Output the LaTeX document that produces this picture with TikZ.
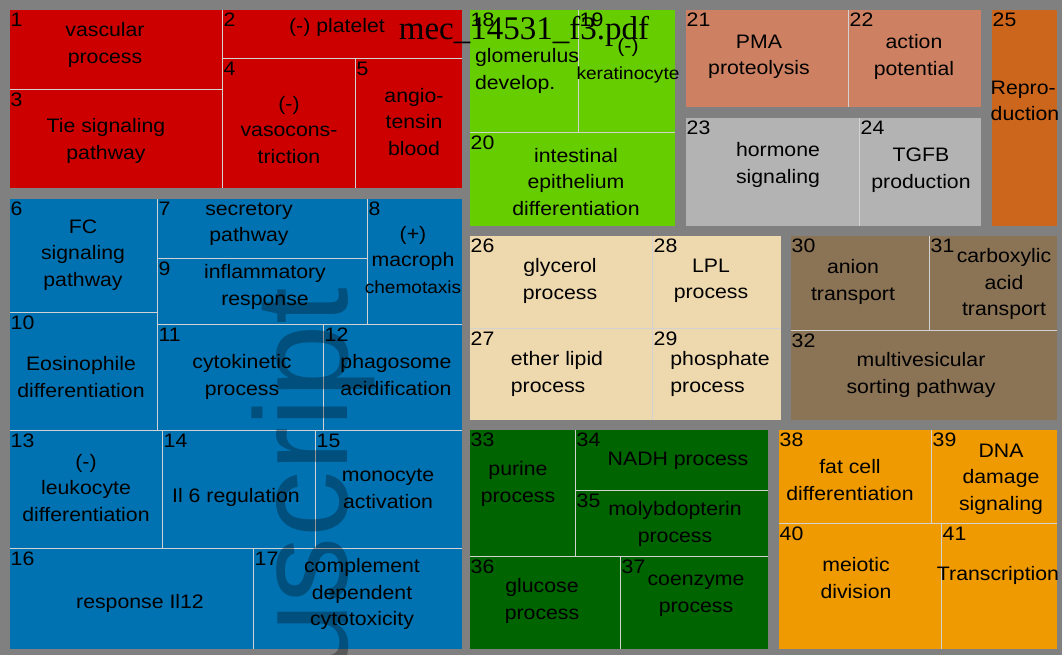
\documentclass[tikz,border=0pt]{standalone}
\usepackage{fontspec}
\setmainfont[FakeStretch=1.09]{Liberation Sans}
\newfontfamily\titlefont{Liberation Serif}
\newfontfamily\markfont{Liberation Sans}
\usepackage{tikz}
\usetikzlibrary{positioning,fit}
\definecolor{backg}{RGB}{128,128,128}
\definecolor{edge}{RGB}{210,210,210}
\definecolor{redt}{RGB}{205,0,0}
\definecolor{bluet}{RGB}{0,114,178}
\definecolor{greent}{RGB}{102,205,0}
\definecolor{salmont}{RGB}{205,129,98}
\definecolor{grayt}{RGB}{179,179,179}
\definecolor{chocot}{RGB}{205,102,29}
\definecolor{wheatt}{RGB}{238,216,174}
\definecolor{brownt}{RGB}{139,115,85}
\definecolor{dgreent}{RGB}{0,100,0}
\definecolor{oranget}{RGB}{238,154,0}

\begin{document}
\begin{tikzpicture}[
    x=1pt, y=-1pt,
    tile/.style={
		rectangle,
		draw=edge,
		line width=0.8pt,
		inner sep=0pt,
		outer sep=0pt,
		anchor=north west
	},
	group/.style={
		rectangle,
		draw=backg,
		line width=2pt,
		inner sep=0pt,
		outer sep=0pt
	},
	num/.style={
		anchor=north west,
		inner xsep=1.5pt,
		inner ysep=4pt,
		font=\fontsize{19.5}{22}\selectfont
	},
	txt/.style={
		align=center,
		inner sep=0pt,
		font=\fontsize{19.5}{26.5}\selectfont
	},
	wmark/.style={
		inner sep=0pt,
		text=black,
		text opacity=0.3,
		font=\markfont\fontsize{132}{140}\selectfont
	}
  ]
  \useasboundingbox (0,0) rectangle (1062,655);
  \fill [backg] (0,0) rectangle (1062,655);

    % We start by placing the tiles, group by group
  % red
  \node [tile, fill=redt, minimum width=213, minimum height=80] (t1) at (9,9) {};
  \node [tile, fill=redt, minimum width=241, minimum height=49] (t2) at (222,9) {};
  \node [tile, fill=redt, minimum width=213, minimum height=100] (t3) at (9,89) {};
  \node [tile, fill=redt, minimum width=133, minimum height=131] (t4) at (222,58) {};
  \node [tile, fill=redt, minimum width=108, minimum height=131] (t5) at (355,58) {};
  % blue
  \node [tile, fill=bluet, minimum width=148, minimum height=114] (t6) at (9,198) {};
  \node [tile, fill=bluet, minimum width=210, minimum height=60] (t7) at (157,198) {};
  \node [tile, fill=bluet, minimum width=96, minimum height=126] (t8) at (367,198) {};
  \node [tile, fill=bluet, minimum width=210, minimum height=66] (t9) at (157,258) {};
  \node [tile, fill=bluet, minimum width=148, minimum height=118] (t10) at (9,312) {};
  \node [tile, fill=bluet, minimum width=166, minimum height=106] (t11) at (157,324) {};
  \node [tile, fill=bluet, minimum width=140, minimum height=106] (t12) at (323,324) {};
  \node [tile, fill=bluet, minimum width=153, minimum height=118] (t13) at (9,430) {};
  \node [tile, fill=bluet, minimum width=153, minimum height=118] (t14) at (162,430) {};
  \node [tile, fill=bluet, minimum width=148, minimum height=118] (t15) at (315,430) {};
  \node [tile, fill=bluet, minimum width=244, minimum height=102] (t16) at (9,548) {};
  \node [tile, fill=bluet, minimum width=210, minimum height=102] (t17) at (253,548) {};
  % light green
  \node [tile, fill=greent, minimum width=109, minimum height=123] (t18) at (469,9) {};
  \node [tile, fill=greent, minimum width=98, minimum height=123] (t19) at (578,9) {};
  \node [tile, fill=greent, minimum width=207, minimum height=95] (t20) at (469,132) {};
  % salmon, gray, chocolate
  \node [tile, fill=salmont, minimum width=163, minimum height=99] (t21) at (685,9) {};
  \node [tile, fill=salmont, minimum width=134, minimum height=99] (t22) at (848,9) {};
  \node [tile, fill=grayt, minimum width=174, minimum height=110] (t23) at (685,117) {};
  \node [tile, fill=grayt, minimum width=123, minimum height=110] (t24) at (859,117) {};
  \node [tile, fill=chocot, minimum width=67, minimum height=218] (t25) at (991,9) {};
  % wheat
  \node [tile, fill=wheatt, minimum width=183, minimum height=93] (t26) at (469,235) {};
  \node [tile, fill=wheatt, minimum width=183, minimum height=93] (t27) at (469,328) {};
  \node [tile, fill=wheatt, minimum width=130, minimum height=93] (t28) at (652,235) {};
  \node [tile, fill=wheatt, minimum width=130, minimum height=93] (t29) at (652,328) {};
  % brown
  \node [tile, fill=brownt, minimum width=139, minimum height=95] (t30) at (790,235) {};
  \node [tile, fill=brownt, minimum width=129, minimum height=95] (t31) at (929,235) {};
  \node [tile, fill=brownt, minimum width=268, minimum height=91] (t32) at (790,330) {};
  % dark green
  \node [tile, fill=dgreent, minimum width=106, minimum height=127] (t33) at (469,429) {};
  \node [tile, fill=dgreent, minimum width=194, minimum height=61] (t34) at (575,429) {};
  \node [tile, fill=dgreent, minimum width=194, minimum height=66] (t35) at (575,490) {};
  \node [tile, fill=dgreent, minimum width=151, minimum height=94] (t36) at (469,556) {};
  \node [tile, fill=dgreent, minimum width=149, minimum height=94] (t37) at (620,556) {};
  % orange
  \node [tile, fill=oranget, minimum width=153, minimum height=94] (t38) at (778,429) {};
  \node [tile, fill=oranget, minimum width=127, minimum height=94] (t39) at (931,429) {};
  \node [tile, fill=oranget, minimum width=163, minimum height=127] (t40) at (778,523) {};
  \node [tile, fill=oranget, minimum width=117, minimum height=127] (t41) at (941,523) {};

  % gray frames round the groups
  \node [group, fit=(t1)(t5)] (reds) {};
  \node [group, fit=(t6)(t17)] (blues) {};
  \node [group, fit=(t18)(t20)] (greens) {};
  \node [group, fit=(t21)(t22)] (salmons) {};
  \node [group, fit=(t23)(t24)] (grays) {};
  \node [group, fit=(t25)] (chocos) {};
  \node [group, fit=(t26)(t29)] (wheats) {};
  \node [group, fit=(t30)(t32)] (browns) {};
  \node [group, fit=(t33)(t37)] (dgreens) {};
  \node [group, fit=(t38)(t41)] (oranges) {};

  % numbers
  \node [num] (n1) at (t1.north west) {1};
  \node [num] (n2) at (t2.north west) {2};
  \node [num] (n3) at (t3.north west) {3};
  \node [num] (n4) at (t4.north west) {4};
  \node [num] (n5) at (t5.north west) {5};
  \node [num] (n6) at (t6.north west) {6};
  \node [num] (n7) at (t7.north west) {7};
  \node [num] (n8) at (t8.north west) {8};
  \node [num] (n9) at (t9.north west) {9};
  \node [num] (n10) at (t10.north west) {10};
  \node [num] (n11) at (t11.north west) {11};
  \node [num] (n12) at (t12.north west) {12};
  \node [num] (n13) at (t13.north west) {13};
  \node [num] (n14) at (t14.north west) {14};
  \node [num] (n15) at (t15.north west) {15};
  \node [num] (n16) at (t16.north west) {16};
  \node [num] (n17) at (t17.north west) {17};
  \node [num] (n18) at (t18.north west) {18};
  \node [num] (n19) at (t19.north west) {19};
  \node [num] (n20) at (t20.north west) {20};
  \node [num] (n21) at (t21.north west) {21};
  \node [num] (n22) at (t22.north west) {22};
  \node [num] (n23) at (t23.north west) {23};
  \node [num] (n24) at (t24.north west) {24};
  \node [num] (n25) at (t25.north west) {25};
  \node [num] (n26) at (t26.north west) {26};
  \node [num] (n27) at (t27.north west) {27};
  \node [num] (n28) at (t28.north west) {28};
  \node [num] (n29) at (t29.north west) {29};
  \node [num] (n30) at (t30.north west) {30};
  \node [num] (n31) at (t31.north west) {31};
  \node [num] (n32) at (t32.north west) {32};
  \node [num] (n33) at (t33.north west) {33};
  \node [num] (n34) at (t34.north west) {34};
  \node [num] (n35) at (t35.north west) {35};
  \node [num] (n36) at (t36.north west) {36};
  \node [num] (n37) at (t37.north west) {37};
  \node [num] (n38) at (t38.north west) {38};
  \node [num] (n39) at (t39.north west) {39};
  \node [num] (n40) at (t40.north west) {40};
  \node [num] (n41) at (t41.north west) {41};

  % labels
  \node [txt] (l1) at (105,45) {vascular\\process};
  \node [txt] (l2) at (337,27) {(-) platelet};
  \node [txt] (l3) at (106,141) {Tie signaling\\pathway};
  \node [txt] (l4) at (289,130) {(-)\\vasocons-\\triction};
  \node [txt] (l5) at (414,122) {angio-\\tensin\\blood};
  \node [txt] (l6) at (83,255) {FC\\signaling\\pathway};
  \node [txt] (l7) at (249,224) {secretory\\pathway};
  \node [txt] (l8) at (413,260) {(+)\\macroph\\{\fontsize{17.5}{20}\selectfont chemotaxis}};
  \node [txt] (l9) at (265,287) {inflammatory\\response};
  \node [txt] (l10) at (81,377) {Eosinophile\\differentiation};
  \node [txt] (l11) at (242,377) {cytokinetic\\process};
  \node [txt] (l12) at (396,375) {phagosome\\acidification};
  \node [txt] (l13) at (86,488) {(-)\\leukocyte\\differentiation};
  \node [txt] (l14) at (236,497) {Il 6 regulation};
  \node [txt] (l15) at (388,489) {monocyte\\activation};
  \node [txt] (l16) at (140,603) {response Il12};
  \node [txt] (l17) at (362,594) {complement\\dependent\\cytotoxicity};
  \node [txt, align=left] (l18) at (527,71) {glomerulus\\develop.};
  \node [txt] (l19) at (628,61) {(-)\\{\fontsize{17.5}{20}\selectfont keratinocyte}};
  \node [txt] (l20) at (576,182) {intestinal\\epithelium\\differentiation};
  \node [txt] (l21) at (759,57) {PMA\\proteolysis};
  \node [txt] (l22) at (914,57) {action\\potential};
  \node [txt] (l23) at (778,165) {hormone\\signaling};
  \node [txt] (l24) at (921,170) {TGFB\\production};
  \node [txt, align=left] (l25) at (1025,101) {Repro-\\duction};
  \node [txt] (l26) at (560,281) {glycerol\\process};
  \node [txt, align=left] (l27) at (557,374) {ether lipid\\process};
  \node [txt] (l28) at (711,281) {LPL\\process};
  \node [txt, align=left] (l29) at (720,374) {phosphate\\process};
  \node [txt] (l30) at (853,282) {anion\\transport};
  \node [txt] (l31) at (1004,284) {carboxylic\\acid\\transport};
  \node [txt] (l32) at (921,375) {multivesicular\\sorting pathway};
  \node [txt] (l33) at (518,484) {purine\\process};
  \node [txt] (l34) at (678,461) {NADH process};
  \node [txt] (l35) at (675,524) {molybdopterin\\process};
  \node [txt] (l36) at (542,601) {glucose\\process};
  \node [txt] (l37) at (696,596) {coenzyme\\process};
  \node [txt] (l38) at (850,480) {fat cell\\differentiation};
  \node [txt] (l39) at (1001,479) {DNA\\damage\\signaling};
  \node [txt] (l40) at (856,578) {meiotic\\division};
  \node [txt] (l41) at (998,575) {Transcription};

  % file name and the faint stamp on top
  \node [anchor=base, inner sep=0pt, font=\titlefont\fontsize{33}{36}\selectfont] (fname) at (524,40) {mec\_14531\_f3.pdf};
  \begin{scope}
  \clip (0,0) rectangle (1062,655);
  \node [wmark, rotate=90, anchor=base east] (stamp) at (347,288) {uscript};
  \end{scope}

\end{tikzpicture}
\end{document}
